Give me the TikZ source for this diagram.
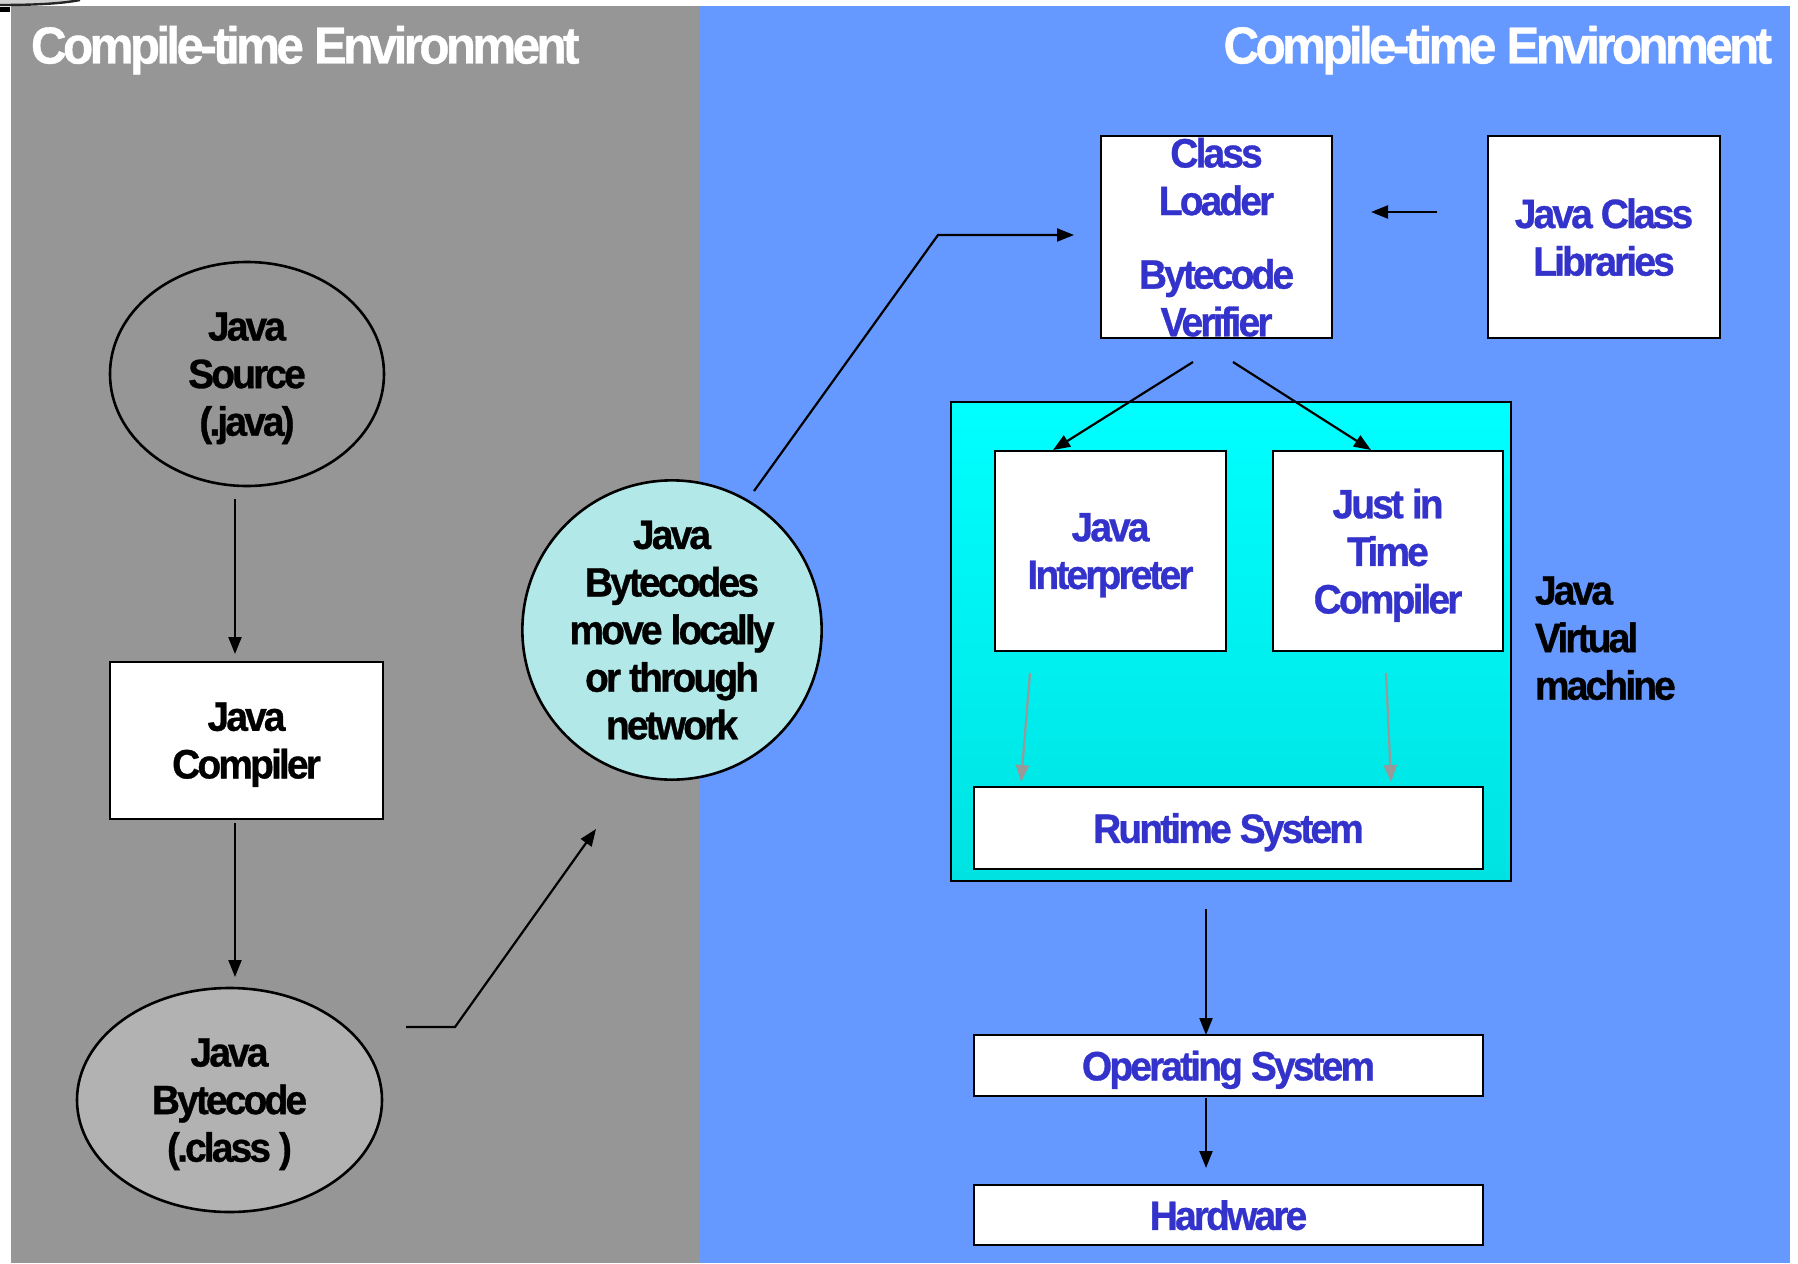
\documentclass[tikz,border=0pt]{standalone}
\usepackage{fontspec}
\newfontfamily\cf{Liberation Sans}[FakeStretch=0.95, LetterSpace=-7, BoldFeatures={FakeBold=0.8}]
\usetikzlibrary{arrows.meta,calc,shapes.geometric}
\definecolor{bggray}{HTML}{969696}
\definecolor{bgblue}{HTML}{6699FF}
\definecolor{jblue}{HTML}{3333CC}
\definecolor{circfill}{HTML}{B2E8E8}
\definecolor{bcfill}{HTML}{B2B2B2}
\definecolor{garrow}{HTML}{999999}
\definecolor{cyantop}{HTML}{00FFFF}
\definecolor{cyanbot}{HTML}{00E2E2}
\begin{document}
\begin{tikzpicture}[x=0.5pt,y=-0.5pt,
  txt/.style={font=\cf\bfseries\fontsize{20.5}{23.8}\selectfont, align=center, inner sep=0pt, outer sep=0pt, text depth=0pt},
  wbox/.style={txt, draw=black, line width=1.3pt, fill=white, text=jblue},
  kbox/.style={txt, draw=black, line width=1.3pt, fill=white, text=black},
  oval/.style={txt, ellipse, draw=black, line width=1.3pt, text=black},
  title/.style={font=\cf\bfseries\fontsize{26}{30}\selectfont, text=white, inner sep=0pt, outer sep=0pt},
  arr/.style={draw=black, line width=1.1pt, -{Triangle[length=8.5pt,width=6.5pt]}},
  garr/.style={draw=garrow, line width=1.1pt, -{Triangle[length=8.5pt,width=6.5pt]}}]
\useasboundingbox (0,0) rectangle (1798,1263);
\fill[white] (0,0) rectangle (1798,1263);
% panels
\fill[bggray] (11,6) rectangle (699,1263);
\fill[bgblue] (699,6) rectangle (1790,1263);
% logo remnant
\fill[gray!35] (0,0) -- (80,0) .. controls (60,4) and (30,5) .. (0,5) -- cycle;
\draw[line width=1.2pt, black!85] (0,5) .. controls (30,5) and (60,4) .. (80,0);
\fill[black] (0,7) rectangle (10,12);
% titles
\node[title, anchor=base west] (tleft) at (31,63.5) {Compile-time Environment};
\node[title, anchor=base east] (tright) at (1772,63.5) {Compile-time Environment};
% left side
\node[oval, minimum width=137pt, minimum height=112pt] (source) at (247,374) {Java\\Source\\(.java)};
\node[kbox, minimum width=136.5pt, minimum height=78.5pt] (compiler) at (246.5,740.5) {Java\\Compiler};
\node[oval, fill=bcfill, minimum width=152.5pt, minimum height=112pt] (bytecode) at (229.5,1100) {Java\\Bytecode\\(.class )};
\node[txt, circle, draw=black, line width=1.3pt, fill=circfill, minimum size=143pt] (net) at (672,630) {Java\\Bytecodes\\move locally\\or through\\network};
% right side
\fill[top color=cyantop, bottom color=cyanbot] (951,402) rectangle (1511,881);
\node[draw=black, line width=1.3pt, minimum width=280pt, minimum height=239.5pt, inner sep=0pt] (jvm) at (1231,641.5) {};
\node[wbox, minimum width=115.5pt, minimum height=101pt] (loader) at (1216.5,237) {Class\\Loader\\[13pt]Bytecode\\Verifier};
\node[wbox, minimum width=116pt, minimum height=101pt] (libs) at (1604,237) {Java Class\\Libraries};
\node[wbox, minimum width=115.5pt, minimum height=100pt] (interp) at (1110.5,551) {Java\\Interpreter};
\node[wbox, minimum width=115pt, minimum height=100pt] (jit) at (1388,551) {Just in\\Time\\Compiler};
\node[wbox, minimum width=254.5pt, minimum height=41pt] (runtime) at (1228.5,828) {Runtime System};
\node[wbox, minimum width=254.5pt, minimum height=30.5pt] (os) at (1228.5,1065.5) {Operating System};
\node[wbox, minimum width=254.5pt, minimum height=30pt] (hw) at (1228.5,1215) {Hardware};
\node[txt, align=left, anchor=west, text=black] (jvmlabel) at (1535,638) {Java\\Virtual\\machine};
% connectors
\coordinate (bendA) at (455,1027);
\coordinate (bendB) at (938,235);
\draw[arr] ($(source.south)+(-12,13)$) -- ($(compiler.north)+(-11.5,-8)$);
\draw[arr] ($(compiler.south)+(-11.5,4)$) -- ($(bytecode.north)+(5.5,-11)$);
\draw[arr] ($(bytecode.east)+(24,-73)$) -- (bendA) -- ($(net.center)+(-76,199)$);
\draw[arr] ($(net.center)+(82,-139)$) -- (bendB) -- ($(loader.west)+(-27,-2)$);
\draw[arr] ($(libs.west)+(-51,-25)$) -- ($(loader.east)+(39,-25)$);
\draw[arr] ($(loader.south)+(-23.5,24)$) -- ($(interp.north)+(-57.5,-1)$);
\draw[arr] ($(loader.south)+(16.5,24)$) -- ($(jit.north)+(-17,-1)$);
\draw[garr] ($(interp.south)+(-80.5,22)$) -- ($(runtime.north)+(-207.5,-5)$);
\draw[garr] ($(jit.south)+(-2,22)$) -- ($(runtime.north)+(162.5,-5)$);
\draw[arr] ($(jvm.south)+(-25,27)$) -- ($(os.north)+(-22.5,0)$);
\draw[arr] ($(os.south)+(-22.5,2)$) -- ($(hw.north)+(-22.5,-17)$);
\end{tikzpicture}
\end{document}
